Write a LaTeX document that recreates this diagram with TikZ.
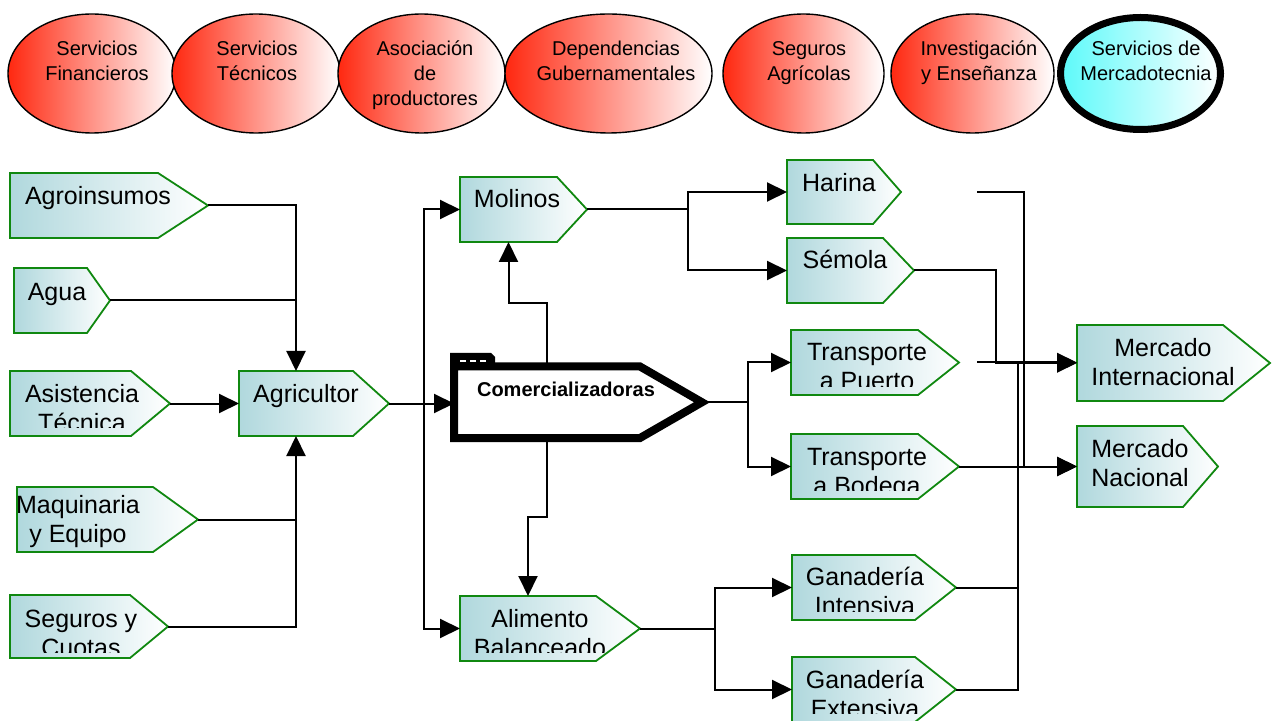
\documentclass[tikz,border=0pt]{standalone}
\usepackage{fontspec}
\setmainfont{Liberation Sans}
\usetikzlibrary{arrows.meta,fit,shapes.geometric}

\definecolor{stageteal}{RGB}{176,216,221}
\definecolor{stagegreen}{RGB}{16,136,16}
\definecolor{svcred}{RGB}{255,40,16}
\definecolor{svccyan}{RGB}{92,250,250}

\newcommand\stagefont{\fontsize{12.5pt}{14.5pt}\selectfont}
\newcommand\svcfont{\fontsize{10pt}{12.5pt}\selectfont}
% distance between the bottom of a stage and the bottom of its text area
\newcommand\textgap{8.5}

\tikzset{
  svc/.style={ellipse, draw=black, line width=0.7pt, left color=svcred, right color=white,
    inner sep=0pt, minimum height=59.5pt},
  svcmark/.style={svc, left color=svccyan, line width=3.5pt, minimum height=56pt},
  svctext/.style={font=\svcfont, align=center, anchor=north, inner sep=0pt},
  stageshape/.style={draw=stagegreen, line width=0.9pt, left color=stageteal, right color=white, line join=miter},
  stagetext/.style={font=\stagefont, align=center, anchor=north, inner sep=0pt},
  link/.style={line width=1pt},
  feed/.style={link, -{Triangle[length=10pt,width=9.5pt]}},
}

% #1 name, #2 left, #3 top, #4 end of straight part, #5 tip, #6 bottom,
% #7 text centre x, #8 first baseline y, #9 text
% (a strut opens the first line, so its top lies 0.7 baselineskip = 20.3 units above the baseline)
\newcommand\stagebox[9]{%
  \coordinate (#1-nw) at (#2,#3);
  \coordinate (#1-se) at (#4,#6);
  \node[fit=(#1-nw)(#1-se), inner sep=0pt, outer sep=0pt] (#1) {};
  \coordinate (#1-tip) at (#5,{(#3+#6)/2});
  \path[stageshape] (#1.north west) -- (#1.north east) -- (#1-tip) -- (#1.south east) -- (#1.south west) -- cycle;
  \begin{scope}
    \clip (#2,#3) rectangle (#5,{#6-\textgap});
    \node[stagetext] (#1-t) at (#7,{#8-20.3}) {\strut #9};
  \end{scope}
}

\begin{document}
\begin{tikzpicture}[x=0.5pt, y=-0.5pt]
\useasboundingbox (0,0) rectangle (1273,721);
\fill[white] (0,0) rectangle (1273,721);

% service ellipses
\node[svc, minimum width=84pt]   (s1) at (92,73.5) {};
\node[svc, minimum width=84pt]   (s2) at (256,73.5) {};
\node[svc, minimum width=83.5pt] (s3) at (421.5,73.5) {};
\node[svc, minimum width=103.5pt] (s4) at (608.5,73.5) {};
\node[svc, minimum width=80.5pt] (s5) at (803.5,73.5) {};
\node[svc, minimum width=81.5pt] (s6) at (972.5,73.5) {};
\node[svcmark, minimum width=80pt] (s7) at (1140.5,73.5) {};

% labels: first baseline at y=55, strut top 17.5 units above it
\node[svctext] (s1-t) at (97,37.5)   {\strut Servicios\\Financieros};
\node[svctext] (s2-t) at (257,37.5)  {\strut Servicios\\Técnicos};
\node[svctext] (s3-t) at (425,37.5)  {\strut Asociación\\de\\productores};
\node[svctext] (s4-t) at (616,37.5)  {\strut Dependencias\\Gubernamentales};
\node[svctext] (s5-t) at (809,37.5)  {\strut Seguros\\Agrícolas};
\node[svctext] (s6-t) at (979,37.5)  {\strut Investigación\\y Enseñanza};
\node[svctext] (s7-t) at (1146,37.5) {\strut Servicios de\\Mercadotecnia};

% stages
\stagebox{agro}{10}{173}{158}{208}{238}{98}{204}{Agroinsumos}
\stagebox{agua}{14}{268}{87}{110}{333}{57}{300}{Agua}
\stagebox{asist}{10}{371}{131}{170}{436}{82}{402}{Asistencia\\Técnica}
\stagebox{agri}{239}{371}{353}{389}{436}{306}{402}{Agricultor}
\renewcommand\textgap{2}
\stagebox{maq}{17}{487}{153}{198}{552}{78}{513}{Maquinaria\\y Equipo}
\renewcommand\textgap{6}
\stagebox{seg}{10}{595}{130}{168}{658}{81}{627}{Seguros y\\Cuotas}
\renewcommand\textgap{8.5}
\stagebox{mol}{460}{177}{557}{587}{242}{517}{207}{Molinos}
\stagebox{ali}{460}{596}{596}{640}{661}{540}{627}{Alimento\\Balanceado}
\stagebox{har}{787}{160}{873}{901}{224}{839}{191}{Harina}
\stagebox{sem}{787}{238}{883}{914}{303}{845}{268}{Sémola}
\stagebox{tpu}{791}{330}{918}{959}{395}{867}{360}{Transporte\\a Puerto}
\stagebox{tbo}{791}{434}{918}{959}{499}{867}{465}{Transporte\\a Bodega}
\stagebox{gi}{792}{555}{915}{956}{620}{865}{585}{Ganadería\\Intensiva}
\stagebox{ge}{792}{657}{915}{956}{722}{865}{688}{Ganadería\\Extensiva}
\stagebox{mi}{1077}{325}{1223}{1270}{401}{1163}{356}{Mercado\\Internacional}
\stagebox{mn}{1077}{426}{1183}{1218}{507}{1140}{457}{Mercado\\Nacional}

% Comercializadoras: heavy outlined tag with a folder tab
\coordinate (com-nw) at (454,366.5);
\coordinate (com-se) at (640,438);
\node[fit=(com-nw)(com-se), inner sep=0pt, outer sep=0pt] (com) {};
\coordinate (com-tip) at (702,402.25);
\fill (450,364) -- (450,353) -- (491,353) -- (495,357) -- (495,364) -- cycle;
\draw[line width=4pt, line join=miter, miter limit=10]
  (com.north west) -- (com.north east) -- (com-tip) -- (com.south east) -- (com.south west) -- cycle;
\foreach \d in {460,470,480}
  \draw[white, line width=1.2pt] (\d,361) -- ++(6,0);
\node[font=\bfseries\fontsize{10pt}{12pt}\selectfont, anchor=base, inner sep=0pt] (com-t) at (566,396) {Comercializadoras};

% inputs to Agricultor
\draw[feed] (agro-tip) -| (agri.north);
\draw[link] (agua-tip) -- (agua-tip -| agri.north);
\draw[feed] (asist-tip) -- (asist-tip -| agri.west);
\draw[link] (maq-tip) -- (maq-tip -| agri.south);
\draw[feed] (seg-tip) -| (agri.south);

% Agricultor outputs
\coordinate (split-a) at (424,403.5);
\draw[feed] (agri-tip) -- (agri-tip -| com.west);
\draw[feed] (split-a) |- (mol.west);
\draw[feed] (split-a) |- (ali.west);

% Comercializadoras to Molinos and Alimento
\draw[feed] (com.north) -- ++(0,-63) -| (mol.south);
\draw[feed] (com.south) -- ++(0,79) -| (ali.north);

% Molinos products
\coordinate (split-m) at (688,209.5);
\draw[link] (mol-tip) -- (split-m);
\draw[feed] (split-m) |- (har.west);
\draw[feed] (split-m) |- (sem.west);

% transport
\coordinate (split-c) at (748,402.25);
\draw[link] (com-tip) -- (split-c);
\draw[feed] (split-c) |- (tpu.west);
\draw[feed] (split-c) |- (tbo.west);

% livestock
\coordinate (split-f) at (715,628.5);
\draw[link] (ali-tip) -- (split-f);
\draw[feed] (split-f) |- (gi.west);
\draw[feed] (split-f) |- (ge.west);

% markets
\coordinate (har-out) at (977,192);
\coordinate (tpu-out) at (977,362.5);
\coordinate (join-g) at (1018,363);
\draw[feed] (har-out) -- ++(47,0) |- (mn.west);
\draw[feed] (sem-tip) -- ++(82,0) |- (mi.west);
\draw[feed] (tpu-out) -- (tpu-out -| mi.west);
\draw[feed] (tbo-tip) -- (tbo-tip -| mn.west);
\draw[link] (gi-tip) -| (join-g);
\draw[link] (ge-tip) -| (join-g);
\end{tikzpicture}
\end{document}
